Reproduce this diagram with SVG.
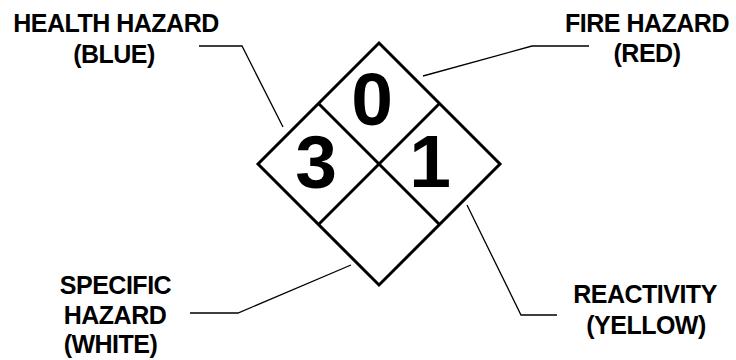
<svg xmlns="http://www.w3.org/2000/svg" width="736" height="360" viewBox="0 0 736 360">
<style>
.lbl{font-family:"Liberation Sans",Arial,sans-serif;font-size:25px;font-weight:bold;letter-spacing:-0.5px;fill:#000;text-anchor:middle}
.num{font-family:"Liberation Sans",Arial,sans-serif;font-size:75px;font-weight:bold;fill:#000;text-anchor:middle}
.dia{fill:#fff;stroke:#000;stroke-width:3;stroke-linejoin:miter}
.lead{fill:none;stroke:#000;stroke-width:1.3}
</style>
<rect width="736" height="360" fill="#fff"/>
<g id="diamond">
<polygon class="dia" points="379,43 500,164 379,285 258,164"/>
<line class="dia" x1="318.5" y1="103.5" x2="439.5" y2="224.5"/>
<line class="dia" x1="439.5" y1="103.5" x2="318.5" y2="224.5"/>
</g>
<g id="health-value"><text class="num" x="316" y="188">3</text></g>
<g id="fire-value"><text class="num" x="372" y="125">0</text></g>
<g id="reactivity-value"><text class="num" x="430" y="187">1</text></g>
<g id="connectors">
<polyline class="lead" points="199,46 242,46 283,127"/>
<polyline class="lead" points="423,76 532,46 589,46"/>
<polyline class="lead" points="190,313 238,313 351,265"/>
<polyline class="lead" points="467,205 521,315 557,315"/>
</g>
<g id="health-label">
<text class="lbl" x="116" y="31.5">HEALTH HAZARD</text>
<text class="lbl" x="114" y="63">(BLUE)</text>
</g>
<g id="fire-label">
<text class="lbl" x="647" y="31.5">FIRE HAZARD</text>
<text class="lbl" x="647" y="62">(RED)</text>
</g>
<g id="specific-label">
<text class="lbl" x="115.5" y="294">SPECIFIC</text>
<text class="lbl" x="115" y="324">HAZARD</text>
<text class="lbl" x="110.5" y="353">(WHITE)</text>
</g>
<g id="reactivity-label">
<text class="lbl" x="645" y="303">REACTIVITY</text>
<text class="lbl" x="646" y="334">(YELLOW)</text>
</g>
</svg>
